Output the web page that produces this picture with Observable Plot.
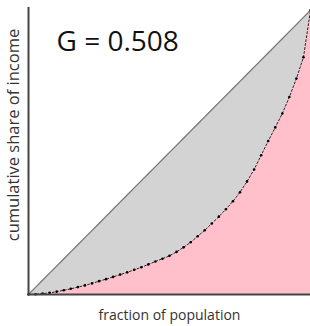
<!DOCTYPE html>
<html>
<head>
<meta charset="utf-8">
<script src="https://cdn.jsdelivr.net/npm/d3@7"></script>
<script src="https://cdn.jsdelivr.net/npm/@observablehq/plot@0.6"></script>
<style>
  html, body { margin: 0; padding: 0; background: #fff; }
  #chart svg { display: block; }
</style>
</head>
<body>
<div id="chart"></div>
<script>
// fraction of population (x) and cumulative share of income (y)
const population = [0, 0.025, 0.05, 0.075, 0.1, 0.125, 0.15, 0.175, 0.2, 0.225, 0.25, 0.275, 0.3, 0.325, 0.35, 0.375, 0.4, 0.425, 0.45, 0.475, 0.5, 0.525, 0.55, 0.575, 0.6, 0.625, 0.65, 0.675, 0.7, 0.725, 0.75, 0.775, 0.8, 0.825, 0.85, 0.875, 0.9, 0.925, 0.95, 0.975, 1];
const incomeShare = [0, 0.001, 0.003, 0.006, 0.01, 0.015, 0.02, 0.026, 0.032, 0.039, 0.047, 0.054, 0.062, 0.07, 0.078, 0.087, 0.096, 0.106, 0.116, 0.126, 0.136, 0.15, 0.166, 0.184, 0.205, 0.226, 0.25, 0.274, 0.3, 0.328, 0.36, 0.398, 0.44, 0.49, 0.54, 0.588, 0.637, 0.695, 0.76, 0.835, 1];
const giniLabel = "G = 0.508";
const xLabel = "fraction of population";
const yLabel = "cumulative share of income";

const data = population.map((p, i) => ({p, s: incomeShare[i]}));

const font = "'Open Sans', 'Noto Sans', sans-serif";

const chart = Plot.plot({
  width: 310,
  height: 326,
  marginLeft: 28,
  marginRight: 0,
  marginTop: 7,
  marginBottom: 32,
  style: {fontFamily: font, background: "#fff"},
  x: {domain: [0, 1], axis: null},
  y: {domain: [0, 1.01], axis: null},
  marks: [
    Plot.areaY(data, {x: "p", y: "s", fill: "pink"}),
    Plot.areaY(data, {x: "p", y1: "s", y2: "p", fill: "lightgray"}),
    Plot.line(data, {x: "p", y: "p", stroke: "#777", strokeWidth: 1.2}),
    Plot.line(data, {x: "p", y: "s", stroke: "#222", strokeWidth: 1, strokeDasharray: "2,2"}),
    Plot.dot(data, {x: "p", y: "s", r: 1.3, fill: "#000"}),
    Plot.ruleY([0], {stroke: "#444", strokeWidth: 2}),
    Plot.ruleX([0], {y1: 0, y2: 1.01, stroke: "#444", strokeWidth: 2}),
    Plot.text([giniLabel], {frameAnchor: "top-left", textAnchor: "start", lineAnchor: "top", dx: 28, dy: 24, fontSize: 28, fill: "#111"}),
    Plot.text([xLabel], {frameAnchor: "bottom", textAnchor: "middle", lineAnchor: "middle", dy: 21, fontSize: 14, fill: "#333"}),
    Plot.text([yLabel], {frameAnchor: "left", textAnchor: "middle", lineAnchor: "middle", rotate: -90, dx: -15, dy: -16, fontSize: 16.5, fill: "#333"})
  ]
});
document.getElementById("chart").appendChild(chart);
</script>
</body>
</html>
